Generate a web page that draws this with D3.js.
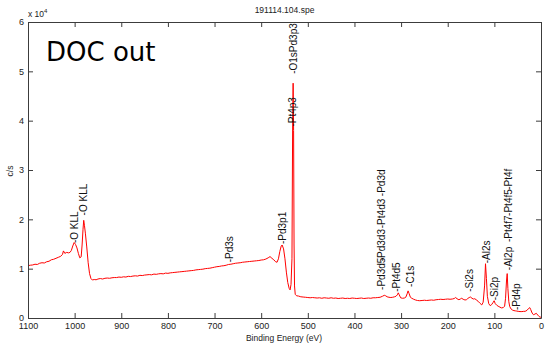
<!DOCTYPE html>
<html>
<head>
<meta charset="utf-8">
<script src="https://cdn.jsdelivr.net/npm/d3@7"></script>
<style>
  body { margin: 0; background: #fff; }
  svg { display: block; font-family: "Liberation Sans", Arial, sans-serif; }
</style>
</head>
<body>
<div id="xps"></div>
<script>

// Survey spectrum, binding energy (eV) and counts (c/s)
const energy = [
  1100, 1095, 1090, 1085, 1080, 1075, 1070, 1065, 1060, 1055, 1050, 1045, 1040, 1035, 1030,
  1026, 1024, 1021, 1017, 1013, 1010, 1007, 1004, 1001, 998, 995, 992, 989, 986, 984, 982,
  980.5, 979, 977, 974, 971, 968, 965, 962, 958, 954, 950, 945, 940, 935, 930, 925, 920,
  915, 910, 905, 900, 895, 890, 885, 880, 875, 870, 865, 860, 855, 850, 845, 840, 835,
  830, 825, 820, 815, 810, 805, 800, 795, 790, 785, 780, 775, 770, 765, 760, 755, 750,
  745, 740, 735, 730, 725, 720, 715, 710, 705, 700, 695, 690, 685, 680, 675, 670, 665,
  660, 655, 650, 645, 640, 635, 630, 625, 620, 615, 610, 605, 600, 595, 590, 585, 581,
  577, 573, 569, 566, 563, 560, 557, 555, 552, 549, 546, 543, 540, 538, 536, 534, 532.5,
  531.5, 530.5, 529.5, 528.5, 527, 524, 520, 515, 510, 505, 500, 495, 490, 485, 480, 475,
  470, 465, 460, 455, 450, 445, 440, 435, 430, 425, 420, 415, 410, 405, 400, 395, 390,
  385, 380, 375, 370, 365, 360, 355, 350, 345, 340, 336, 333, 330, 326, 322, 318, 314,
  311, 308, 306, 304, 301, 297, 293, 290, 287, 285, 283, 280, 277, 273, 269, 265, 260,
  255, 250, 245, 240, 235, 230, 225, 220, 215, 210, 205, 200, 195, 190, 186, 183, 180,
  176, 173, 170, 167, 163, 160, 157, 154, 151, 148, 145, 142, 139, 135, 131, 127, 124,
  121, 119, 117, 115, 112, 109, 106, 103, 100.5, 98, 95, 92, 88, 85, 81, 78, 76, 74,
  72.5, 71, 69, 67, 64, 61, 58, 55, 52, 49, 45, 41, 37, 34, 30, 27, 24, 22, 19, 16, 13,
  10, 7, 4, 2, 0
];
const counts = [
  10600, 10700, 10750, 10900, 10850, 11100, 11200, 11150, 11400, 11500, 11800, 11900, 12100, 12300, 12500,
  12900, 13600, 13100, 13300, 13200, 13300, 13700, 14600, 15300, 14900, 14200, 13100, 12200, 12400, 14800, 18000,
  19800, 18800, 17200, 14400, 11200, 9000, 8000, 7700, 7800, 7750, 7900, 8000, 7900, 8050, 8100, 8050, 8150,
  8200, 8200, 8300, 8250, 8350, 8300, 8450, 8400, 8500, 8550, 8500, 8650, 8600, 8700, 8750, 8800, 8750,
  8900, 8850, 8950, 9000, 8950, 9100, 9050, 9150, 9200, 9250, 9300, 9350, 9400, 9450, 9500, 9550, 9600,
  9650, 9750, 9800, 9850, 9900, 10000, 10050, 10100, 10200, 10300, 10400, 10450, 10550, 10600, 10700, 10850, 10900,
  11000, 11100, 11150, 11200, 11300, 11350, 11400, 11450, 11500, 11550, 11600, 11650, 11750, 11800, 11950, 12200, 12450,
  12100, 11800, 11400, 11300, 12000, 13500, 14600, 14800, 14000, 12000, 9300, 7200, 6000, 5700, 6800, 12000, 40000,
  47600, 38000, 15000, 6500, 4800, 4500, 4450, 4300, 4250, 4200, 4150, 4100, 4150, 4100, 4050, 4100,
  4000, 4100, 4050, 4000, 4100, 4000, 4050, 3950, 4000, 4050, 3950, 4000, 3950, 4050, 4000, 3950, 4000,
  4050, 3950, 4000, 4050, 4000, 4100, 4100, 4150, 4200, 4400, 4600, 4500, 4300, 4200, 4150, 4200, 4300,
  4400, 4700, 5100, 4700, 4100, 4000, 4050, 4200, 4900, 5500, 5000, 4200, 4000, 3800, 3650, 3550, 3500,
  3550, 3600, 3550, 3600, 3650, 3600, 3700, 3750, 3800, 3750, 3800, 3850, 3800, 3850, 3950, 4150, 3900,
  3700, 3850, 4000, 3800, 3650, 3700, 3950, 4150, 4250, 4000, 3850, 3900, 3700, 3400, 3000, 2650, 3200,
  6500, 11000, 8000, 4400, 2900, 2500, 2700, 3100, 3500, 2900, 2600, 2400, 2200, 2050, 2100, 2400, 4000, 7500,
  9000, 6000, 3300, 2300, 1800, 1600, 1500, 1450, 1400, 1350, 1300, 1300, 1350, 1350, 1550, 1900, 2100, 1700, 1000, 650, 800,
  950, 600, 300, 150, 200
];

// peak labels: text, energy of the mark, height where the text starts
const peakNames = [
  "-O KLL", "-O KLL", "-Pd3s", "-Pd3p1", "-O1sPd3p3", "-Pt4p3",
  "-Pd3d5", "-Pd3d3", "-Pt4d3", "-Pd3d", "-Pt4d5", "-C1s",
  "-Si2s", "-Al2s", "-Si2p", "-Al2p", "-Pt4f7", "-Pt4f5", "-Pt4f", "-Pd4p"
];
const peakEnergy = [
  1001, 981, 667, 555, 531.5, 532.5,
  342, 342, 342, 342, 310, 280,
  152.5, 117, 100.5, 69, 69, 69, 69, 52
];
const peakLabelAt = [
  15200, 20800, 11300, 15000, 49500, 38800,
  5700, 11500, 18200, 24700, 5300, 6300,
  5300, 11100, 3600, 9700, 15400, 20700, 26000, 1600
];

const xTicks = [1100, 1000, 900, 800, 700, 600, 500, 400, 300, 200, 100, 0];
const yTicks = [0, 10000, 20000, 30000, 40000, 50000, 60000];

const width = 550;
const height = 348;
const margin = {left: 28, right: 9, top: 22, bottom: 30};
const axisColor = "#3c3c3c";

const svg = d3.select("#xps")
  .append("svg")
  .attr("width", width)
  .attr("height", height)
  .attr("viewBox", [0, 0, width, height]);

// binding energy runs backwards, high on the left
const x = d3.scaleLinear()
  .domain([1100, 0])
  .range([margin.left, width - margin.right]);

const y = d3.scaleLinear()
  .domain([0, 60000])
  .range([height - margin.bottom, margin.top]);

const spectrum = energy.map((e, i) => ({e: e, c: counts[i]}));

// spectrum trace
svg.append("path")
  .datum(spectrum)
  .attr("fill", "none")
  .attr("stroke", "#ff0000")
  .attr("stroke-width", 1)
  .attr("stroke-linejoin", "round")
  .attr("d", d3.line().x(d => x(d.e)).y(d => y(d.c)));

/*

  Axes (matlab style box, ticks pointing in)

*/

const styleAxis = function(g) {
  g.selectAll(".domain").attr("stroke", axisColor);
  g.selectAll(".tick line").attr("stroke", axisColor);
  g.selectAll(".tick text").attr("fill", "#222");
};

svg.append("g")
  .attr("transform", `translate(0,${height - margin.bottom})`)
  .call(d3.axisBottom(x).tickValues(xTicks).tickSize(-5).tickSizeOuter(0).tickPadding(5)
          .tickFormat(d3.format("d")))
  .attr("font-size", "9px")
  .attr("font-family", null)
  .call(styleAxis);

svg.append("g")
  .attr("transform", `translate(0,${margin.top})`)
  .call(d3.axisTop(x).tickValues(xTicks).tickSize(-5).tickSizeOuter(0).tickFormat(""))
  .call(styleAxis);

svg.append("g")
  .attr("transform", `translate(${margin.left},0)`)
  .call(d3.axisLeft(y).tickValues(yTicks).tickSize(-5).tickSizeOuter(0).tickPadding(4)
          .tickFormat(d => d / 10000))
  .attr("font-size", "9px")
  .attr("font-family", null)
  .call(styleAxis);

svg.append("g")
  .attr("transform", `translate(${width - margin.right},0)`)
  .call(d3.axisRight(y).tickValues(yTicks).tickSize(-5).tickSizeOuter(0).tickFormat(""))
  .call(styleAxis);

// peak labels, rotated so they read upwards from the mark
svg.append("g")
  .selectAll("text")
  .data(peakNames)
  .enter()
  .append("text")
    .attr("transform", (d, i) => `translate(${x(peakEnergy[i])},${y(peakLabelAt[i])}) rotate(-90)`)
    .attr("dy", "0.35em")
    .attr("font-size", "10px")
    .attr("fill", "#111")
    .text(d => d);

// title, exponent and axis names
svg.append("text")
  .attr("x", (margin.left + width - margin.right) / 2)
  .attr("y", 13)
  .attr("text-anchor", "middle")
  .attr("font-size", "8.5px")
  .attr("fill", "#222")
  .text("191114.104.spe");

const expo = svg.append("text")
  .attr("x", 28)
  .attr("y", 16.5)
  .attr("font-size", "8.5px")
  .attr("fill", "#222")
  .text("x 10");
expo.append("tspan")
  .attr("dy", -4)
  .attr("font-size", "6px")
  .text("4");

svg.append("text")
  .attr("transform", "translate(13,171) rotate(-90)")
  .attr("text-anchor", "middle")
  .attr("font-size", "8.5px")
  .attr("fill", "#222")
  .text("c/s");

svg.append("text")
  .attr("x", 284)
  .attr("y", 341)
  .attr("text-anchor", "middle")
  .attr("font-size", "8.5px")
  .attr("fill", "#222")
  .text("Binding Energy (eV)");

// sample name in the corner
svg.append("text")
  .attr("x", 46)
  .attr("y", 61)
  .attr("font-family", "'DejaVu Sans', Verdana, sans-serif")
  .attr("font-size", "26px")
  .attr("fill", "#000")
  .text("DOC out");

</script>
</body>
</html>
